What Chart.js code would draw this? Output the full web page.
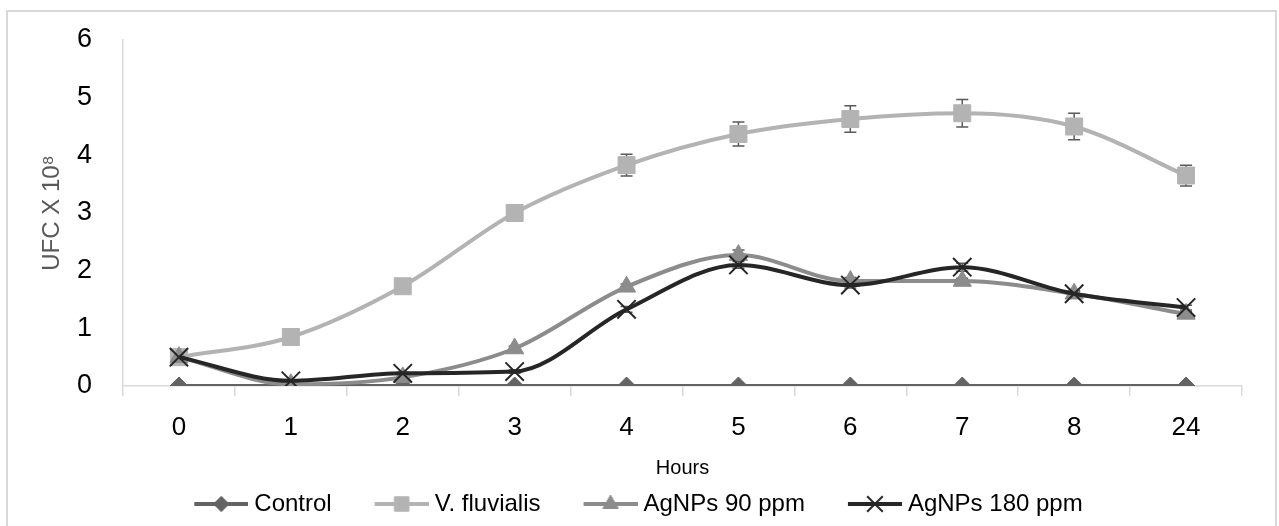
<!DOCTYPE html>
<html>
<head>
<meta charset="utf-8">
<script src="https://cdn.jsdelivr.net/npm/chart.js@4.4.1/dist/chart.umd.min.js"></script>
<style>
    html, body { margin: 0; padding: 0; background: #fff; overflow: hidden; }
    #frame { position: absolute; left: 6px; top: 10px; width: 1271px; height: 530px; border: 2px solid #d9d9d9; box-sizing: border-box; }
    #wrap { position: absolute; left: 0; top: 0; width: 1279px; height: 526px; }
</style>
</head>
<body>
<div id="frame"></div>
<div id="wrap"><canvas id="chart" width="1279" height="526"></canvas></div>
<script>
// Bacterial growth (UFC x 10^8) over time
const hours = ['0', '1', '2', '3', '4', '5', '6', '7', '8', '24'];

const control    = [0, 0, 0, 0, 0, 0, 0, 0, 0, 0];
const vFluvialis = [0.5, 0.85, 1.73, 3.0, 3.83, 4.37, 4.63, 4.73, 4.5, 3.65];
const agnps90    = [0.5, 0.03, 0.15, 0.65, 1.72, 2.27, 1.82, 1.82, 1.6, 1.25];
const agnps180   = [0.5, 0.09, 0.22, 0.25, 1.33, 2.1, 1.75, 2.06, 1.6, 1.36];

// standard error bars
const vFluvialisErr = [0.03, 0.04, 0.05, 0.08, 0.19, 0.21, 0.23, 0.24, 0.23, 0.18];
const agnps90Err    = [0.02, 0.01, 0.02, 0.04, 0.05, 0.09, 0.06, 0.05, 0.05, 0.04];
const agnps180Err   = [0.02, 0.02, 0.02, 0.03, 0.05, 0.06, 0.05, 0.07, 0.04, 0.04];

const seriesNames = ['Control', 'V. fluvialis', 'AgNPs 90 ppm', 'AgNPs 180 ppm'];

const fontFamily = "'Liberation Sans Narrow', 'Liberation Sans', Arial, sans-serif";

const styles = [
    { color: '#636363', point: 'rectRot',  radius: 9,  border: 1 },
    { color: '#b3b3b3', point: 'rect',     radius: 12, border: 1 },
    { color: '#8c8c8c', point: 'triangle', radius: 10.5, border: 1 },
    { color: '#262626', point: 'crossRot', radius: 13, border: 2 }
];

// legend symbol: short line with the marker in the middle
function legendSymbol(st) {
    const c = document.createElement('canvas');
    c.width = 95;
    c.height = 24;
    const g = c.getContext('2d');
    g.strokeStyle = st.color;
    g.lineWidth = 4;
    g.beginPath();
    g.moveTo(41, 12);
    g.lineTo(95, 12);
    g.stroke();
    g.fillStyle = st.color;
    g.strokeStyle = st.color;
    g.lineWidth = st.border;
    Chart.helpers.drawPoint(g, { pointStyle: st.point, radius: st.radius * 0.85, rotation: 0, borderWidth: st.border }, 68, 12);
    return c;
}

const errorBars = {
    id: 'errorBars',
    beforeDatasetsDraw(chart) {
        const ctx = chart.ctx;
        const y = chart.scales.y;
        ctx.save();
        ctx.strokeStyle = '#595959';
        ctx.lineWidth = 1.5;
        chart.data.datasets.forEach((ds, i) => {
            if (!ds.errors) return;
            const meta = chart.getDatasetMeta(i);
            meta.data.forEach((pt, j) => {
                const v = ds.data[j];
                const e = ds.errors[j];
                const top = y.getPixelForValue(v + e);
                const bot = y.getPixelForValue(v - e);
                ctx.beginPath();
                ctx.moveTo(pt.x, top);
                ctx.lineTo(pt.x, bot);
                ctx.moveTo(pt.x - 6, top);
                ctx.lineTo(pt.x + 6, top);
                ctx.moveTo(pt.x - 6, bot);
                ctx.lineTo(pt.x + 6, bot);
                ctx.stroke();
            });
        });
        ctx.restore();
    }
};

const values = [control, vFluvialis, agnps90, agnps180];
const errs = [null, vFluvialisErr, agnps90Err, agnps180Err];

const datasets = values.map((data, i) => ({
    label: seriesNames[i],
    data: data,
    errors: errs[i],
    borderColor: styles[i].color,
    backgroundColor: styles[i].color,
    borderWidth: 4,
    tension: 0.35,
    cubicInterpolationMode: 'monotone',
    pointStyle: styles[i].point,
    pointRadius: styles[i].radius,
    pointBorderWidth: styles[i].border,
    pointBackgroundColor: styles[i].color,
    pointBorderColor: styles[i].color,
    order: 4 - i
}));

new Chart(document.getElementById('chart'), {
    type: 'line',
    data: { labels: hours, datasets: datasets },
    plugins: [errorBars],
    options: {
        responsive: false,
        animation: false,
        layout: { padding: { left: 0, right: 37, top: 40, bottom: 0 } },
        plugins: {
            tooltip: { enabled: false },
            legend: {
                position: 'bottom',
                labels: {
                    font: { family: fontFamily, size: 24 },
                    color: '#000',
                    usePointStyle: true,
                    pointStyleWidth: 83,
                    padding: 8,
                    generateLabels: function(chart) {
                        return chart.data.datasets.map((ds, i) => ({
                            text: ds.label,
                            pointStyle: legendSymbol(styles[i]),
                            fillStyle: styles[i].color,
                            strokeStyle: styles[i].color,
                            lineWidth: 0,
                            fontColor: '#000',
                            hidden: false,
                            datasetIndex: i
                        }));
                    }
                }
            }
        },
        scales: {
            x: {
                offset: true,
                afterFit: function(scale) { scale.height = 98; },
                grid: { offset: true, drawOnChartArea: false, drawTicks: true, tickLength: 10, color: '#d9d9d9', lineWidth: 1.5 },
                border: { color: '#d9d9d9', width: 1.5 },
                ticks: { color: '#000', font: { family: fontFamily, size: 26 }, padding: 16 },
                title: {
                    display: true,
                    text: 'Hours',
                    color: '#000',
                    font: { family: fontFamily, size: 20 },
                    padding: { top: 0, bottom: 4 }
                }
            },
            y: {
                min: 0,
                max: 6,
                afterFit: function(scale) {
                    scale.width = 123;
                    scale.paddingTop = 0;
                    scale.paddingBottom = 0;
                },
                grid: { display: false, drawTicks: false },
                border: { color: '#d9d9d9', width: 1.5 },
                ticks: { stepSize: 1, color: '#000', font: { family: fontFamily, size: 27 }, padding: 31 },
                title: {
                    display: true,
                    text: 'UFC X 10\u2078',
                    color: '#595959',
                    font: { family: fontFamily, size: 24 },
                    padding: { top: 38, bottom: 0 }
                }
            }
        }
    }
});
</script>
</body>
</html>
